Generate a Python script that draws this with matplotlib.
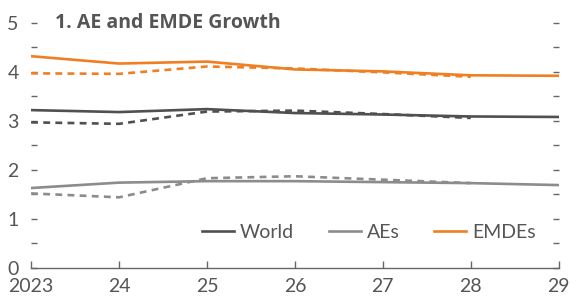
import matplotlib.pyplot as plt
from matplotlib.ticker import MultipleLocator

# data
years = [2023, 2024, 2025, 2026, 2027, 2028, 2029]
year_labels = ["2023", "24", "25", "26", "27", "28", "29"]

world = [3.22, 3.18, 3.24, 3.16, 3.13, 3.09, 3.08]
aes = [1.63, 1.74, 1.77, 1.77, 1.75, 1.73, 1.69]
emdes = [4.32, 4.17, 4.21, 4.05, 4.01, 3.93, 3.92]

prev_years = [2023, 2024, 2025, 2026, 2027, 2028]
world_prev = [2.97, 2.94, 3.19, 3.21, 3.14, 3.06]
aes_prev = [1.52, 1.44, 1.83, 1.87, 1.80, 1.73]
emdes_prev = [3.97, 3.96, 4.11, 4.07, 3.99, 3.90]

C_WORLD = "#505050"
C_AES = "#8c8c8c"
C_EMDES = "#f07f22"
TXT = "#555555"

plt.rcParams["font.family"] = ["Lato", "DejaVu Sans"]

fig = plt.figure(figsize=(5.76, 3.01), dpi=100)
ax = fig.add_axes([0.054, 0.11, 0.916, 0.814])

dash = (0, (2.6, 2.0))
ax.plot(years, world, color=C_WORLD, lw=1.9, label="World", zorder=3)
ax.plot(years, aes, color=C_AES, lw=1.9, label="AEs", zorder=3)
ax.plot(years, emdes, color=C_EMDES, lw=1.9, label="EMDEs", zorder=3)
ax.plot(prev_years, world_prev, color=C_WORLD, lw=1.9, ls=dash, zorder=2)
ax.plot(prev_years, aes_prev, color=C_AES, lw=1.9, ls=dash, zorder=2)
ax.plot(prev_years, emdes_prev, color=C_EMDES, lw=1.9, ls=dash, zorder=2)

ax.set_xlim(2023, 2029)
ax.set_ylim(0, 5)
ax.set_xticks(years)
ax.set_xticklabels(year_labels)
ax.yaxis.set_major_locator(MultipleLocator(1))
ax.yaxis.set_minor_locator(MultipleLocator(0.5))

for s in ["top", "left", "right"]:
    ax.spines[s].set_visible(False)
ax.spines["bottom"].set_color("#666666")
ax.spines["bottom"].set_linewidth(1.0)

ax.tick_params(axis="x", direction="in", length=5, width=1.0, color="#666666",
               labelsize=14, labelcolor=TXT, pad=7)
ax.tick_params(axis="y", which="both", direction="in", length=4, width=1.0,
               color="#666666", labelsize=14, labelcolor=TXT, pad=9,
               left=True, right=True)
ax.tick_params(axis="y", which="minor", labelleft=False)

ax.text(0.045, 1.0, "1. AE and EMDE Growth", transform=ax.transAxes,
        fontsize=14, fontweight="bold", color=TXT, va="center", ha="left",
        family=["Open Sans", "DejaVu Sans"])

leg = ax.legend(loc="lower right", ncol=3, frameon=False, fontsize=14,
                bbox_to_anchor=(0.99, 0.04), handlelength=1.65,
                columnspacing=1.8, handletextpad=0.3)
for t in leg.get_texts():
    t.set_color(TXT)

fig.savefig("out.png", dpi=100)
